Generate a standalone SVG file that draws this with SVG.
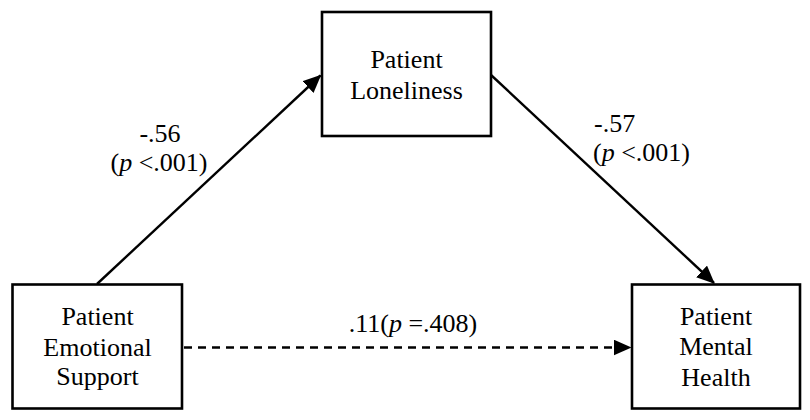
<svg xmlns="http://www.w3.org/2000/svg" width="810" height="420" viewBox="0 0 810 420">
  <style>
    .box { fill: #ffffff; stroke: #000000; stroke-width: 2.6; }
    .lbl { font-family: "Liberation Serif", "Times New Roman", serif; font-size: 26px; fill: #000000; }
    .mid { text-anchor: middle; }
    .edge { stroke: #000000; stroke-width: 2.4; fill: none; }
    .dash { stroke-dasharray: 8 6; }
  </style>
  <defs>
    <marker id="arrowhead" markerUnits="userSpaceOnUse" markerWidth="18" markerHeight="16" refX="17" refY="8" orient="auto">
      <path d="M0,0 L18,8 L0,16 Z" fill="#000000"/>
    </marker>
  </defs>
  <rect width="810" height="420" fill="#ffffff"/>

  <!-- paths and their coefficient labels -->
  <g id="connectors">
    <line class="edge" x1="97" y1="284" x2="320.5" y2="75.5" marker-end="url(#arrowhead)"/>
    <line class="edge" x1="491" y1="75" x2="714" y2="283" marker-end="url(#arrowhead)"/>
    <line class="edge dash" x1="184" y1="347.5" x2="630.5" y2="347.5" marker-end="url(#arrowhead)"/>
    <text class="lbl mid" x="160" y="142">-.56</text>
    <text class="lbl mid" x="159" y="171">(<tspan font-style="italic">p</tspan> &lt;.001)</text>
    <text class="lbl" x="594" y="132">-.57</text>
    <text class="lbl" x="593" y="161">(<tspan font-style="italic">p</tspan> &lt;.001)</text>
    <text class="lbl mid" x="413" y="332">.11(<tspan font-style="italic">p</tspan> =.408)</text>
  </g>

  <g id="node-loneliness">
    <rect class="box" x="322" y="12" width="169" height="124"/>
    <text class="lbl mid" x="406.5" y="68">Patient</text>
    <text class="lbl mid" x="406.5" y="99">Loneliness</text>
  </g>

  <g id="node-emotional-support">
    <rect class="box" x="12.5" y="284.5" width="169.5" height="124"/>
    <text class="lbl mid" x="97.5" y="325">Patient</text>
    <text class="lbl mid" x="97.5" y="356">Emotional</text>
    <text class="lbl mid" x="97.5" y="385">Support</text>
  </g>

  <g id="node-mental-health">
    <rect class="box" x="632" y="284.5" width="168" height="124"/>
    <text class="lbl mid" x="716" y="325">Patient</text>
    <text class="lbl mid" x="716" y="355">Mental</text>
    <text class="lbl mid" x="716" y="386">Health</text>
  </g>
</svg>
